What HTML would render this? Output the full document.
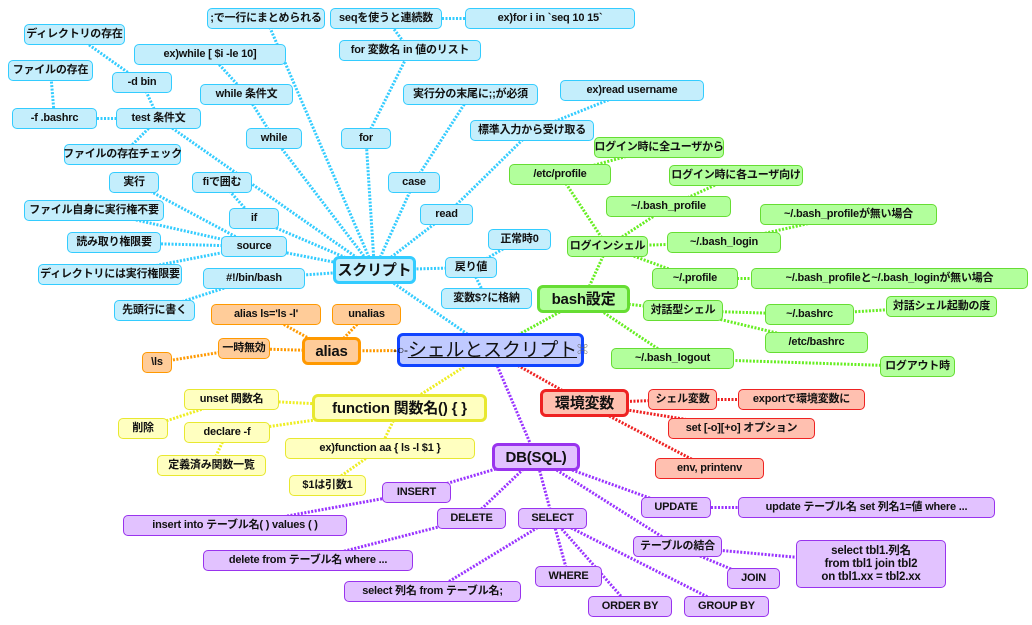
<!DOCTYPE html>
<html><head><meta charset="utf-8"><style>
body{margin:0;width:1032px;height:625px;background:#fff;position:relative;overflow:hidden;font-family:"Liberation Sans","Noto Sans CJK JP",sans-serif;}
svg{position:absolute;left:0;top:0}
.n{position:absolute;box-sizing:border-box;height:21px;border:1px solid;border-radius:5px;font-size:11px;font-weight:bold;display:flex;align-items:center;justify-content:center;white-space:nowrap;color:#111;line-height:13px;text-align:center;letter-spacing:-0.2px}
.m{height:28px;border-width:3px;font-size:15px;border-radius:6px}
.b{background:#c4eefc;border-color:#33ccff}
.g{background:#b2ff9c;border-color:#66dd33}
.o{background:#ffcc99;border-color:#ff9900}
.y{background:#ffffc0;border-color:#e8e830}
.r{background:#ffc0b0;border-color:#ee2222}
.p{background:#e2c2ff;border-color:#9933ee}
</style></head><body>
<svg id="s" width="1032" height="625"></svg>
<div id="c"></div>
<script>
const N={
center:[397,333,187,34,'c','<span style="font-size:12px">-○-</span><u>シェルとスクリプト</u><span style="font-size:11px;color:#666"> ⌘</span>'],
scr:[333,256,83,28,'b m','スクリプト'],
k1:[207,8,118,21,'b',';で一行にまとめられる'],
seq:[330,8,112,21,'b','seqを使うと連続数'],
exfor:[465,8,170,21,'b','ex)for i in `seq 10 15`'],
dirx:[24,24,101,21,'b','ディレクトリの存在'],
exwh:[134,44,152,21,'b','ex)while [ $i -le 10]'],
forv:[339,40,142,21,'b','for 変数名 in 値のリスト'],
filex:[8,60,85,21,'b','ファイルの存在'],
dbin:[112,72,60,21,'b','-d bin'],
whc:[200,84,93,21,'b','while 条件文'],
jikko:[403,84,135,21,'b','実行分の末尾に;;が必須'],
exrd:[560,80,144,21,'b','ex)read username'],
fb:[12,108,85,21,'b','-f .bashrc'],
test:[116,108,85,21,'b','test 条件文'],
wh:[246,128,56,21,'b','while'],
fr:[341,128,50,21,'b','for'],
std:[470,120,124,21,'b','標準入力から受け取る'],
fchk:[64,144,117,21,'b','ファイルの存在チェック'],
jk:[109,172,50,21,'b','実行'],
fi:[192,172,60,21,'b','fiで囲む'],
cs:[388,172,52,21,'b','case'],
fself:[24,200,140,21,'b','ファイル自身に実行権不要'],
iff:[229,208,50,21,'b','if'],
rd:[420,204,53,21,'b','read'],
yomi:[67,232,94,21,'b','読み取り権限要'],
src:[221,236,66,21,'b','source'],
ok0:[488,229,63,21,'b','正常時0'],
dirr:[38,264,144,21,'b','ディレクトリには実行権限要'],
bang:[203,268,102,21,'b','#!/bin/bash'],
ret:[445,257,52,21,'b','戻り値'],
var:[441,288,91,21,'b','変数$?に格納'],
head:[114,300,81,21,'b','先頭行に書く'],
bash:[537,285,93,28,'g m','bash設定'],
all:[594,137,130,21,'g','ログイン時に全ユーザから'],
etcp:[509,164,102,21,'g','/etc/profile'],
each:[669,165,134,21,'g','ログイン時に各ユーザ向け'],
bp:[606,196,125,21,'g','~/.bash_profile'],
bpn:[760,204,177,21,'g','~/.bash_profileが無い場合'],
ls:[567,236,81,21,'g','ログインシェル'],
bl:[667,232,114,21,'g','~/.bash_login'],
pr:[652,268,86,21,'g','~/.profile'],
prn:[751,268,277,21,'g','~/.bash_profileと~/.bash_loginが無い場合'],
tw:[643,300,80,21,'g','対話型シェル'],
brc:[765,304,89,21,'g','~/.bashrc'],
brcd:[886,296,111,21,'g','対話シェル起動の度'],
ebrc:[765,332,103,21,'g','/etc/bashrc'],
blo:[611,348,123,21,'g','~/.bash_logout'],
lot:[880,356,75,21,'g','ログアウト時'],
al:[302,337,59,28,'o m','alias'],
als:[211,304,110,21,'o',"alias ls='ls -l'"],
unal:[332,304,69,21,'o','unalias'],
tmp:[218,338,52,21,'o','一時無効'],
bls:[142,352,30,21,'o','\\ls'],
fn:[312,394,175,28,'y m','function 関数名() { }'],
uns:[184,389,95,21,'y','unset 関数名'],
del:[118,418,50,21,'y','削除'],
dec:[184,422,86,21,'y','declare -f'],
def:[157,455,109,21,'y','定義済み関数一覧'],
exf:[285,438,190,21,'y','ex)function aa { ls -l $1 }'],
arg:[289,475,77,21,'y','$1は引数1'],
env:[540,389,89,28,'r m','環境変数'],
shv:[648,389,69,21,'r','シェル変数'],
exp:[738,389,127,21,'r','exportで環境変数に'],
set:[668,418,147,21,'r','set [-o][+o] オプション'],
pe:[655,458,109,21,'r','env, printenv'],
db:[492,443,88,28,'p m','DB(SQL)'],
ins:[382,482,69,21,'p','INSERT'],
insq:[123,515,224,21,'p','insert into テーブル名( ) values ( )'],
dl:[437,508,69,21,'p','DELETE'],
sel:[518,508,69,21,'p','SELECT'],
up:[641,497,70,21,'p','UPDATE'],
upq:[738,497,257,21,'p','update テーブル名 set 列名1=値 where ...'],
tj:[633,536,89,21,'p','テーブルの結合'],
jq:[796,540,150,48,'p','select tbl1.列名<br>from tbl1 join tbl2<br>on tbl1.xx = tbl2.xx'],
jn:[727,568,53,21,'p','JOIN'],
dlq:[203,550,210,21,'p','delete from テーブル名 where ...'],
wh2:[535,566,67,21,'p','WHERE'],
selq:[344,581,177,21,'p','select 列名 from テーブル名;'],
ob:[588,596,84,21,'p','ORDER BY'],
gb:[684,596,85,21,'p','GROUP BY']
};
const E=[
['#33ccff',['center','scr'],['scr','wh'],['scr','fr'],['scr','cs'],['scr','rd'],['scr','iff'],['scr','src'],['scr','bang'],['scr','ret'],['scr','test'],['scr','k1'],['wh','whc'],['whc','exwh'],['fr','forv'],['forv','seq'],['seq','exfor'],['cs','jikko'],['rd','std'],['std','exrd'],['iff','fi'],['src','jk'],['src','fself'],['src','yomi'],['src','dirr'],['bang','head'],['ret','ok0'],['ret','var'],['test','dbin'],['test','fb'],['test','fchk'],['dbin','dirx'],['fb','filex']],
['#66ee22',['center','bash'],['bash','ls'],['bash','tw'],['bash','blo'],['ls','etcp'],['ls','bp'],['ls','bl'],['ls','pr'],['etcp','all'],['bp','each'],['bl','bpn'],['pr','prn'],['tw','brc'],['tw','ebrc'],['brc','brcd'],['blo','lot']],
['#ff9900',['center','al'],['al','als'],['al','unal'],['al','tmp'],['tmp','bls']],
['#eeee22',['center','fn'],['fn','uns'],['fn','dec'],['fn','exf'],['uns','del'],['dec','def'],['exf','arg']],
['#ee2222',['center','env'],['env','shv'],['env','set'],['env','pe'],['shv','exp']],
['#9933ff',['center','db'],['db','ins'],['db','dl'],['db','sel'],['db','up'],['db','tj'],['ins','insq'],['dl','dlq'],['sel','selq'],['sel','wh2'],['sel','ob'],['sel','gb'],['up','upq'],['tj','jq'],['tj','jn']]
];
let s='';
const cx=k=>N[k][0]+N[k][2]/2, cy=k=>N[k][1]+N[k][3]/2;
for(const g of E){const col=g[0];for(let i=1;i<g.length;i++){const [a,b]=g[i];
s+=`<line x1="${cx(a)}" y1="${cy(a)}" x2="${cx(b)}" y2="${cy(b)}" stroke="${col}" stroke-width="3" stroke-dasharray="2 1.5"/>`;}}
document.getElementById('s').innerHTML=s;
let h='';
for(const k in N){const [x,y,w,hh,c,t]=N[k];
let st=`left:${x}px;top:${y}px;width:${w}px;height:${hh}px`;
if(k=='center')st+=';background:#c0caff;border:3px solid #1144ff;border-radius:6px;font-size:19px;font-weight:normal';
if(k=='jq')st+=';font-size:11.5px';
h+=`<div class="n ${k=='center'?'':c}" style="${st}">${t}</div>`;}
document.getElementById('c').innerHTML=h;
</script>
</body></html>
